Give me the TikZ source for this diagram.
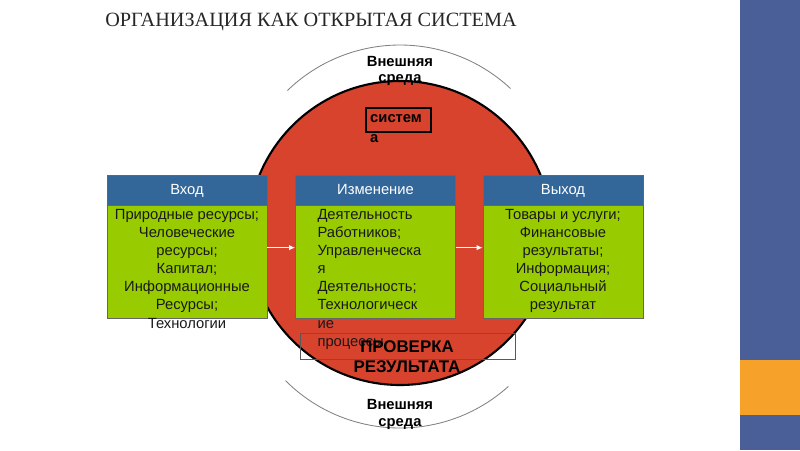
\documentclass[tikz,border=0pt]{standalone}
\usepackage{fontspec}
\setmainfont{Liberation Serif}
\setsansfont{Liberation Sans}
\usetikzlibrary{positioning, arrows.meta}
\definecolor{sysred}{HTML}{D8432E}
\definecolor{hdblue}{HTML}{336699}
\definecolor{bdgreen}{HTML}{99CC00}
\definecolor{barblue}{HTML}{4A5E98}
\definecolor{barorange}{HTML}{F6A12A}

\begin{document}
\begin{tikzpicture}[
  hd/.style={rectangle, draw=black!60, fill=hdblue, minimum width=4cm, minimum height=0.75cm, inner sep=0pt, text height=1.6ex, text depth=0.3ex, text=white, font=\sffamily\fontsize{10.5}{12.8}\selectfont},
  bd/.style={rectangle, draw=black!60, fill=bdgreen, minimum width=4cm, minimum height=2.825cm, inner sep=0pt},
  bdtxt/.style={align=center, inner sep=0pt, font=\sffamily\fontsize{10.5}{12.9}\selectfont, text=black!90},
  envtxt/.style={align=center, inner sep=0pt, font=\sffamily\bfseries\fontsize{10.5}{11.8}\selectfont},
  env/.style={draw=black!50, line width=0.6pt},
  flow/.style={-{Latex[length=1.5mm, width=1.3mm]}, white, line width=0.8pt}
]
\useasboundingbox (0,0) rectangle (20,-11.25);

% ===== Side bar =====
\fill[barblue] (18.5,0) rectangle (20,-11.25);
\fill[barorange] (18.5,-9.0) rectangle (20,-10.375);

% ===== Title =====
\node[anchor=west, inner sep=0pt, text=black!85, font=\fontsize{14.4}{17}\selectfont] (title) at (2.625,-0.55) {ОРГАНИЗАЦИЯ КАК ОТКРЫТАЯ СИСТЕМА};

% ===== Environment arcs and system circle =====
\draw[env] (10,-5.175) ++(47:4.05) arc[start angle=47, end angle=134, radius=4.05cm];
\draw[env] (10,-6.65) ++(225:4.05) arc[start angle=225, end angle=312, radius=4.05cm];
\node[circle, draw=black, line width=1.5pt, fill=sysred, minimum size=7.6cm, inner sep=0pt] (sys) at (10,-5.825) {};

\node[envtxt] (envtop) at (10,-1.775) {Внешняя\\среда};
\node[envtxt] (envbot) at (10,-10.365) {Внешняя\\среда};

\node[draw=black, line width=1.2pt, minimum width=1.625cm, minimum height=0.6cm, inner sep=0pt] (sysbox) at (9.9625,-3.0) {};
\node[envtxt, align=left, anchor=north west] (systxt) at ([xshift=0.12cm, yshift=-0.17cm]sysbox.north west) {систем\\[3pt]а};

% ===== Input / change / output =====
\node[hd] (hdIn)  at (4.675,-4.75) {Вход};
\node[hd] (hdChg) at (9.3875,-4.75) {Изменение};
\node[hd] (hdOut) at (14.075,-4.75) {Выход};
\node[bd, below=0pt of hdIn]  (bdIn)  {};
\node[bd, below=0pt of hdChg] (bdChg) {};
\node[bd, below=0pt of hdOut] (bdOut) {};

\node[bdtxt, anchor=north] (txIn) at ([yshift=-2.5pt]bdIn.north) {Природные ресурсы;\\Человеческие\\ресурсы;\\Капитал;\\Информационные\\Ресурсы;\\Технологии};
\node[bdtxt, align=left, anchor=north west] (txChg) at ([xshift=0.55cm, yshift=-2.5pt]bdChg.north west) {Деятельность\\Работников;\\Управленческа\\я\\Деятельность;\\Технологическ\\ие\\процессы};
\node[bdtxt, anchor=north] (txOut) at ([yshift=-2.5pt]bdOut.north) {Товары и услуги;\\Финансовые\\результаты;\\Информация;\\Социальный\\результат};

\draw[flow] ([yshift=0.36cm]bdIn.east) -- ([yshift=0.36cm]bdChg.west);
\draw[flow] ([yshift=0.36cm]bdChg.east) -- ([yshift=0.36cm]bdOut.west);

% ===== Result check =====
\node[draw=black!65, line width=0.5pt, minimum width=5.375cm, minimum height=0.65cm, inner sep=0pt] (chk) at (10.1875,-8.65) {};
\node[envtxt, font=\sffamily\bfseries\fontsize{12}{14.2}\selectfont] (chktxt) at (10.175,-8.92) {ПРОВЕРКА\\РЕЗУЛЬТАТА};

\end{tikzpicture}
\end{document}
